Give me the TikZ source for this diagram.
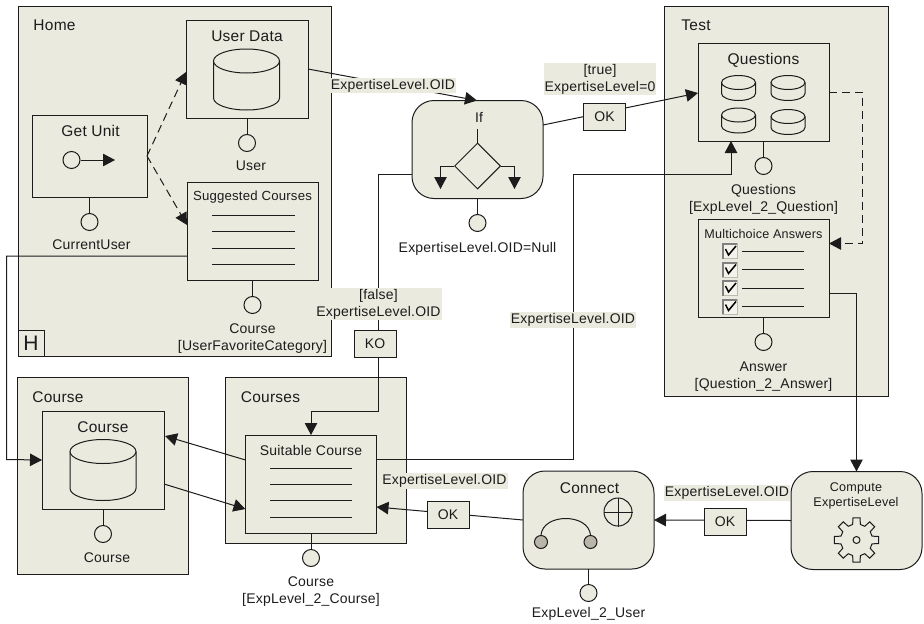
\documentclass[tikz,border=0pt]{standalone}
\usepackage{fontspec}
\setmainfont[LetterSpace=1.5]{Liberation Sans}
\usepackage{tikz}
\usetikzlibrary{arrows.meta,shapes.geometric}
\definecolor{pagebg}{HTML}{EBEADE}
\definecolor{portgrey}{HTML}{B9B6A9}
\definecolor{inkline}{HTML}{1C1C1C}

\begin{document}
\begin{tikzpicture}
	[x=1pt,y=-1pt,>={Triangle[length=12pt,width=12.5pt]},node distance=74pt,
		line width=1pt,color=inkline,
		font=\fontsize{14}{17}\selectfont,
		page/.style={rectangle,draw,fill=pagebg,inner sep=0pt,outer sep=0pt},
		unit/.style={page},
		operation/.style={page,rounded corners=22pt,minimum width=131pt,minimum height=98pt},
		port/.style={circle,draw,fill=pagebg,inner sep=0pt,outer sep=0pt,minimum size=17pt},
		okbox/.style={page,minimum width=42pt,minimum height=27pt},
		tag/.style={fill=pagebg,inner sep=1pt,align=center},
		label text/.style={inner sep=0pt,align=center},
		head/.style={inner sep=0pt,font=\fontsize{15.5}{18}\selectfont},
		smallhead/.style={inner sep=0pt,font=\fontsize{13.2}{16}\selectfont},
		tinyhead/.style={inner sep=0pt,align=center,font=\fontsize{12.6}{15}\selectfont},
		pics/dbicon/.style n args={3}{code={
			\draw[fill=pagebg] (-#1,-#3/2) -- (-#1,#3/2) arc (180:0:#1 and #2) -- (#1,-#3/2);
			\draw[fill=pagebg] (0,-#3/2) ellipse (#1 and #2);
		}}]

	\useasboundingbox (0,0) rectangle (924,624);

	% pages
	\node[page,minimum width=313pt,minimum height=350pt] (home) at (174.5,181) {};
	\node[page,minimum width=224pt,minimum height=390pt] (test) at (776,201) {};
	\node[page,minimum width=170.5pt,minimum height=197pt] (coursepage) at (102.75,475.5) {};
	\node[page,minimum width=181pt,minimum height=166pt] (coursespage) at (315.5,460) {};
	\node[page,minimum width=26pt,minimum height=26pt,font=\fontsize{21}{24}\selectfont] (homemark) at (31,343) {H};

	\node[head] (hometitle) at (54.5,25) {Home};
	\node[head] (testtitle) at (696,25) {Test};
	\node[head] (coursepagetitle) at (58,397) {Course};
	\node[head] (coursespagetitle) at (270.5,397) {Courses};

	% units
	\node[unit,minimum width=122pt,minimum height=98pt] (userdata) at (247,69) {};
	\node[unit,minimum width=115pt,minimum height=82pt] (getunit) at (89.5,156) {};
	\node[unit,minimum width=131pt,minimum height=98pt] (suggested) at (252.5,231) {};
	\node[unit,minimum width=131pt,minimum height=98pt] (questions) at (763.5,92) {};
	\node[unit,minimum width=131pt,minimum height=98pt] (answers) at (763.5,268) {};
	\node[unit,minimum width=122pt,minimum height=98pt] (course) at (103,460) {};
	\node[unit,minimum width=131pt,minimum height=98pt] (suitable) at (311,484) {};
	\node[operation] (ifunit) at (477.5,149.5) {};
	\node[operation] (connect) at (588.5,520) {};
	\node[operation] (compute) at (856.5,520.5) {};

	\node[head] (userdatatitle) at (247,36) {User Data};
	\node[head] (getunittitle) at (90.5,131) {Get Unit};
	\node[smallhead] (suggestedtitle) at (252.5,197) {Suggested Courses};
	\node[head] (questionstitle) at (763.5,60) {Questions};
	\node[tinyhead] (answerstitle) at (763.5,234) {Multichoice Answers};
	\node[head] (coursetitle) at (103,427) {Course};
	\node[inner sep=0pt] (suitabletitle) at (311,450) {Suitable Course};
	\node[inner sep=0pt] (iftitle) at (479,117) {If};
	\node[head] (connecttitle) at (589.5,488) {Connect};
	\node[tinyhead] (computetitle) at (856,495.5) {Compute\\ExpertiseLevel};

	% ports
	\node[port] (userport) [below of=userdata] {};
	\node[port] (getunitport) [below of=getunit,node distance=66pt] {};
	\node[port] (suggestedport) [below of=suggested] {};
	\node[port] (questionsport) [below of=questions] {};
	\node[port] (answersport) [below of=answers] {};
	\node[port] (courseport) [below of=course] {};
	\node[port] (suitableport) [below of=suitable] {};
	\node[port] (ifport) [below of=ifunit,node distance=73.5pt] {};
	\node[port] (connectport) [below of=connect,node distance=73pt] {};

	\path
	(userdata) edge (userport)
	(getunit) edge (getunitport)
	(suggested) edge (suggestedport)
	(questions) edge (questionsport)
	(answers) edge (answersport)
	(course) edge (courseport)
	(suitable) edge (suitableport)
	(ifunit) edge (ifport)
	(connect) edge (connectport)
	;

	\node[label text] (userlabel) [below of=userport,node distance=23pt,xshift=4pt] {User};
	\node[label text] (getunitlabel) [below of=getunitport,node distance=23pt,xshift=2pt] {CurrentUser};
	\node[label text] (suggestedlabel) [below of=suggestedport,node distance=34pt] {Course\\{}[UserFavoriteCategory]};
	\node[label text] (questionslabel) [below of=questionsport,node distance=33.5pt] {Questions\\{}[ExpLevel\_2\_Question]};
	\node[label text] (answerslabel) [below of=answersport,node distance=34.5pt] {Answer\\{}[Question\_2\_Answer]};
	\node[label text] (courselabel) [below of=courseport,node distance=24pt,xshift=4pt] {Course};
	\node[label text] (suitablelabel) [below of=suitableport,node distance=33.5pt] {Course\\{}[ExpLevel\_2\_Course]};
	\node[label text] (iflabel) [below of=ifport,node distance=25.5pt] {ExpertiseLevel.OID=Null};
	\node[label text] (connectlabel) [below of=connectport,node distance=20.5pt] {ExpLevel\_2\_User};

	% icons
	\pic at (246.5,79.5) {dbicon={33}{12}{37}};
	\pic at (103,470) {dbicon={33}{12}{37}};
	\pic at (738.5,88) {dbicon={17}{7}{11}};
	\pic at (738.5,120.5) {dbicon={17}{7}{11}};
	\pic at (788,88) {dbicon={17}{7}{11}};
	\pic at (788,122) {dbicon={17}{7}{11}};
	\node[circle,draw,minimum size=17pt,inner sep=0pt] (sourcemark) at (71.5,160) {};
	\draw[->] (sourcemark) -- (115,160);
	\foreach \ly in {215,231,248,264}
		\draw (212,\ly) -- (295,\ly);
	\foreach \ly in {468,484,500,517}
		\draw (270,\ly) -- (352,\ly);
	\foreach \ly in {251,269.5,288,306.5} {
		\draw[line width=.4pt,draw=pagebg!80!black,fill=pagebg!60!white] (722,\ly-7.5) rectangle (737,\ly+7.5);
		\draw[line width=2pt,draw=black!50] (722.5,\ly+7.5) -- (722.5,\ly-7) -- (737,\ly-7);
		\draw[line width=1.5pt,draw=black] (725.5,\ly-2) -- (728.5,\ly+4) -- (736,\ly-5);
		\draw (742,\ly) -- (804,\ly);
	}
	\node[diamond,draw,minimum width=46pt,minimum height=46pt,inner sep=0pt] (ifdiamond) at (477.5,166) {};
	\coordinate (ifstem) at (477.5,129);
	\draw (ifstem) -- (ifdiamond.north);
	\draw[->] (ifdiamond.west) -- (440.5,166) -- (440.5,189);
	\draw[->] (ifdiamond.east) -- (514.5,166) -- (514.5,189);
	\node[circle,draw,minimum size=28pt,inner sep=0pt] (plusmark) at (618,512) {};
	\draw (plusmark.west) -- (plusmark.east) (plusmark.north) -- (plusmark.south);
	\node[circle,draw,fill=portgrey,minimum size=13pt,inner sep=0pt] (leftjoin) at (541,542) {};
	\node[circle,draw,fill=portgrey,minimum size=13pt,inner sep=0pt] (rightjoin) at (590.5,542) {};
	\draw (leftjoin.north) .. controls (543,513) and (588.5,513) .. (rightjoin.north);
	\begin{scope}[shift={(856.5,540)}]
		\draw[fill=pagebg] (-9:22.5) \foreach \t in {0,45,...,315} {-- (\t-9:22.5) -- (\t+9:22.5) -- (\t+14:16) -- (\t+31:16)} -- cycle;
		\draw (0,0) circle (3.5);
	\end{scope}

	% connectors
	\draw[->,dash pattern=on 8pt off 5pt] (getunit.east) -- (186,72);
	\draw[->,dash pattern=on 8pt off 5pt] (getunit.east) -- (187,225);
	\draw[->,dash pattern=on 8pt off 5pt] (questions.east) -- (862.5,92) -- (862.5,243.5) -- (829,243.5);
	\path (userdata.east) edge[->] ([xshift=-0.5pt]ifunit.north);
	\path ([yshift=24.5pt]ifunit.east) edge[->] ([yshift=-1pt]questions.west);
	\draw[->] ([yshift=-25pt]suggested.west) -- (6.5,256) -- (6.5,459.5) -- (course.west);
	\draw[->] ([yshift=24pt]suitable.west) -- (165,436);
	\draw[->] ([yshift=-24pt]course.east) -- ([yshift=-25pt]suitable.west);
	\draw[->] ([yshift=-25pt]ifunit.west) -- (378,174.5) -- (378,411) -- (311,411) -- (suitable.north);
	\draw[->] ([yshift=24.5pt]suitable.east) -- (573,459.5) -- (573,174) -- (731,174) -- (731,141);
	\draw[->] ([yshift=-25pt]answers.east) -- (856.5,293) -- (compute.north);
	\path (compute.west) edge[->] (connect.east);
	\path (connect.west) edge[->] ([yshift=-23pt]suitable.east);

	\node[okbox] (iftrue) at (604.5,117) {OK};
	\node[okbox] (iffalse) at (375,343.5) {KO};
	\node[okbox] (computeok) at (725,521.5) {OK};
	\node[okbox] (connectok) at (448,514.5) {OK};

	% tags on the connectors
	\node[tag] (datatag) at (393,85.5) {ExpertiseLevel.OID};
	\node[tag] (truetag) at (600,79) {[true]\\ExpertiseLevel=0};
	\node[tag] (falsetag) at (378.5,304) {[false]\\ExpertiseLevel.OID};
	\node[tag] (questiontag) at (573,320) {ExpertiseLevel.OID};
	\node[tag] (connecttag) at (444.5,481) {ExpertiseLevel.OID};
	\node[tag] (computetag) at (727,493) {ExpertiseLevel.OID};

\end{tikzpicture}
\end{document}
